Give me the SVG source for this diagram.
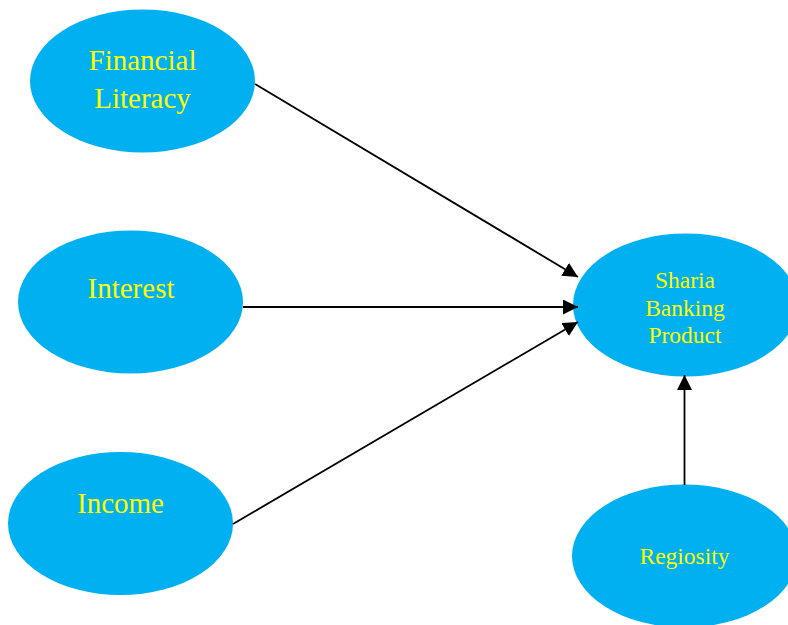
<svg xmlns="http://www.w3.org/2000/svg" width="788" height="625" viewBox="0 0 788 625">
  <style>
    .node { fill: #00B0F0; }
    .label { fill: #FFFF00; font-family: "Liberation Serif", "Times New Roman", serif; text-anchor: middle; }
    .big { font-size: 29px; }
    .small { font-size: 23.5px; }
    .edge { stroke: #000000; stroke-width: 1.8; fill: none; marker-end: url(#arrow); }
  </style>
  <defs>
    <marker id="arrow" markerUnits="userSpaceOnUse" markerWidth="15" markerHeight="15" refX="15" refY="7.5" orient="auto">
      <path d="M0,0 L15,7.5 L0,15 Z" fill="#000000"/>
    </marker>
  </defs>
  <rect width="788" height="625" fill="#FFFFFF"/>

  <g id="financial-literacy">
    <ellipse class="node" cx="142.5" cy="81" rx="112.5" ry="71.5"/>
    <text class="label big" x="142.5" y="70">Financial</text>
    <text class="label big" x="142.5" y="108">Literacy</text>
  </g>

  <g id="interest">
    <ellipse class="node" cx="130.5" cy="302" rx="112.5" ry="71.5"/>
    <text class="label big" x="131" y="298">Interest</text>
  </g>

  <g id="income">
    <ellipse class="node" cx="120.5" cy="523.5" rx="112.5" ry="71.5"/>
    <text class="label big" x="120.5" y="513">Income</text>
  </g>

  <g id="sharia-banking-product">
    <ellipse class="node" cx="685.5" cy="305" rx="112.5" ry="71.5"/>
    <text class="label small" x="685" y="288">Sharia</text>
    <text class="label small" x="685" y="316">Banking</text>
    <text class="label small" x="685" y="343">Product</text>
  </g>

  <g id="regiosity">
    <ellipse class="node" cx="684.5" cy="556" rx="112.5" ry="71.5"/>
    <text class="label small" x="684.5" y="564">Regiosity</text>
  </g>

  <g id="connectors">
    <line class="edge" x1="255" y1="84" x2="578" y2="277"/>
    <line class="edge" x1="243" y1="307" x2="578" y2="307"/>
    <line class="edge" x1="233" y1="524" x2="578" y2="322"/>
    <line class="edge" x1="684.5" y1="485" x2="684.5" y2="375"/>
  </g>
</svg>
